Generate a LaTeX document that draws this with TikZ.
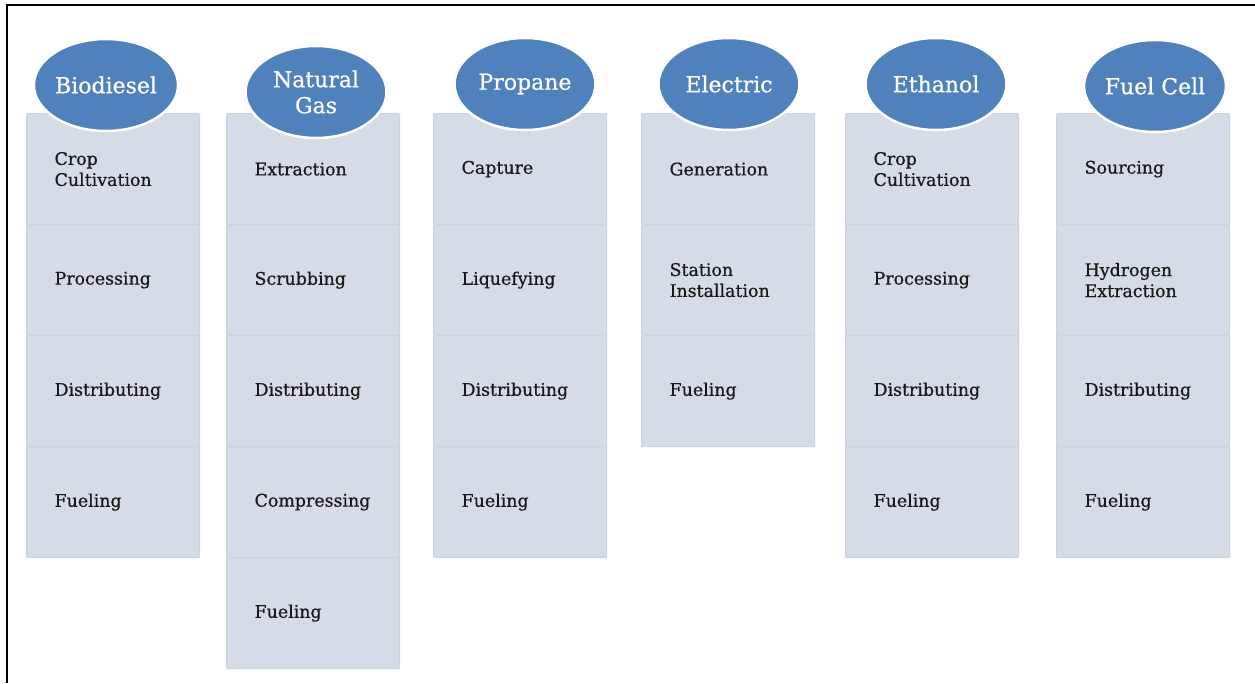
\documentclass[tikz,border=0pt]{standalone}
\usepackage{fontspec}
\setmainfont{DejaVu Serif}[BoldFont=DejaVu Serif, BoldFeatures={FakeBold=0.6}]
\usetikzlibrary{shapes.geometric}

\definecolor{headblue}{HTML}{4F81BD}
\definecolor{cellfill}{HTML}{D5DCE8}
\definecolor{cellline}{HTML}{CBD3E1}

\tikzset{
  head/.style={ellipse, fill=headblue, draw=white, line width=2.5pt,
    minimum width=141pt, minimum height=92pt, inner sep=0pt,
    text=white, align=center, font=\fontsize{22}{26}\selectfont\bfseries},
  cell/.style={rectangle, fill=cellfill, draw=cellline, line width=1.2pt,
    rounded corners=1pt, anchor=north west, minimum width=173pt,
    minimum height=111pt, text width=117pt, inner xsep=28pt,
    align=left, text=black!90, font=\fontsize{17.4}{21}\selectfont\bfseries}
}

\begin{document}
\begin{tikzpicture}[x=1pt,y=-1pt]

            \useasboundingbox (0,0) rectangle (1255,683);
            \fill[white] (0,0) rectangle (1255,683);

            % frame
            \draw[line width=2pt] (7,683) -- (7,5) -- (1255,5);

             % columns: steps first, then the heading on top
                 \foreach \key/\x/\ex/\ey/\lbl/\steps in {
                     bio/26/106/85/Biodiesel/{Crop\\Cultivation,Processing,Distributing,Fueling},
                     gas/226/316/92/{Natural\\Gas}/{Extraction,Scrubbing,Distributing,Compressing,Fueling},
                     prop/433/525/84/Propane/{Capture,Liquefying,Distributing,Fueling},
                     elec/641/729/84/Electric/{Generation,Station\\Installation,Fueling},
                     eth/845/936/84/Ethanol/{Crop\\Cultivation,Processing,Distributing,Fueling},
                     fc/1056/1155/86/Fuel Cell/{Sourcing,Hydrogen\\Extraction,Distributing,Fueling}}
                 {
                     \foreach \s [count=\row] in \steps
                         \node[cell] (\key-\row) at (\x,{113+111*(\row-1)}) {\s};
                     \node[head] (\key-head) at (\ex,\ey) {\lbl};
                 }
             \end{tikzpicture}
\end{document}
